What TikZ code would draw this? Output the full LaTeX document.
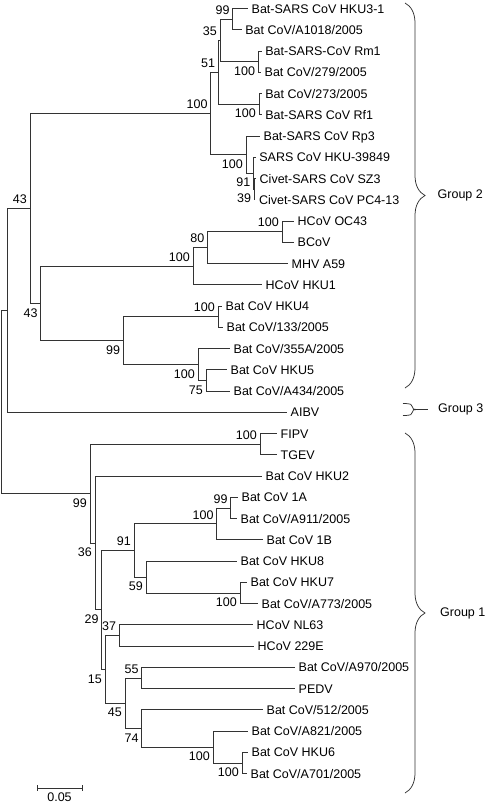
\documentclass[tikz,border=0pt]{standalone}
\usepackage{fontspec}
\setmainfont{Liberation Sans}
\usetikzlibrary{decorations.pathreplacing}

\begin{document}
\begin{tikzpicture}[x=1pt,y=-1pt,
    font=\fontsize{12.5}{14}\selectfont,
    branch/.style={line width=0.75pt,black!80},
    taxon/.style={anchor=west,inner xsep=3.5pt,inner ysep=0pt,text height=9pt,text depth=0pt},
    bsup/.style={anchor=south east,inner sep=0pt,text height=9pt,text depth=0pt,xshift=-3pt,yshift=4.5pt},
    bsdown/.style={anchor=north east,inner sep=0pt,text height=9pt,text depth=0pt,xshift=-3pt,yshift=-4.5pt},
    groupbrace/.style={line width=0.75pt,black!80,decorate,decoration={brace,amplitude=20pt}},
    grouplab/.style={anchor=west,inner sep=0pt}]
    \useasboundingbox (0,0) rectangle (487,804);

    % Group 2 taxa
    \node[taxon] (hku31) at (248,8.5) {Bat-SARS CoV HKU3-1};
    \node[taxon] (a1018) at (241.7,29.75) {Bat CoV/A1018/2005};
    \node[taxon] (rm1) at (261.7,51) {Bat-SARS-CoV Rm1};
    \node[taxon] (b279) at (261,72.25) {Bat CoV/279/2005};
    \node[taxon] (b273) at (261.7,93.5) {Bat CoV/273/2005};
    \node[taxon] (rf1) at (261.7,114.75) {Bat-SARS CoV Rf1};
    \node[taxon] (rp3) at (260,136) {Bat-SARS CoV Rp3};
    \node[taxon] (hku39849) at (255.7,157.25) {SARS CoV HKU-39849};
    \node[taxon] (sz3) at (256,178.5) {Civet-SARS CoV SZ3};
    \node[taxon] (pc4) at (255.3,199.75) {Civet-SARS CoV PC4-13};
    \node[taxon] (oc43) at (294,221) {HCoV OC43};
    \node[taxon] (bcov) at (294,242.25) {BCoV};
    \node[taxon] (mhv) at (288,263.5) {MHV A59};
    \node[taxon] (hku1) at (262,284.75) {HCoV HKU1};
    \node[taxon] (hku4) at (222,306) {Bat CoV HKU4};
    \node[taxon] (b133) at (223,327.25) {Bat CoV/133/2005};
    \node[taxon] (b355a) at (230,348.5) {Bat CoV/355A/2005};
    \node[taxon] (hku5) at (227,369.75) {Bat CoV HKU5};
    \node[taxon] (a434) at (230,391) {Bat CoV/A434/2005};
    % Group 3 taxon
    \node[taxon] (aibv) at (287,412.25) {AIBV};
    % Group 1 taxa
    \node[taxon] (fipv) at (277,433.5) {FIPV};
    \node[taxon] (tgev) at (277,454.75) {TGEV};
    \node[taxon] (hku2) at (262,476) {Bat CoV HKU2};
    \node[taxon] (b1a) at (238,497.25) {Bat CoV 1A};
    \node[taxon] (a911) at (237,518.5) {Bat CoV/A911/2005};
    \node[taxon] (b1b) at (263,539.75) {Bat CoV 1B};
    \node[taxon] (hku8) at (237,561) {Bat CoV HKU8};
    \node[taxon] (hku7) at (247,582.25) {Bat CoV HKU7};
    \node[taxon] (a773) at (258,603.5) {Bat CoV/A773/2005};
    \node[taxon] (nl63) at (253,624.75) {HCoV NL63};
    \node[taxon] (e229) at (254,646) {HCoV 229E};
    \node[taxon] (a970) at (295,667.25) {Bat CoV/A970/2005};
    \node[taxon] (pedv) at (295,688.5) {PEDV};
    \node[taxon] (b512) at (263,709.75) {Bat CoV/512/2005};
    \node[taxon] (a821) at (248,731) {Bat CoV/A821/2005};
    \node[taxon] (hku6) at (248,752.25) {Bat CoV HKU6};
    \node[taxon] (a701) at (247,773.5) {Bat CoV/A701/2005};

    % Internal nodes
    \coordinate (root) at (1.5,401.9);
    \coordinate (nX) at (7.3,310.3);
    \coordinate (g2) at (30,208.4);
    \coordinate (nS) at (210.7,113.4);
    \coordinate (nS1) at (218.3,72.25);
    \coordinate (n35) at (220,40.4);
    \coordinate (n99a) at (232.7,19.1);
    \coordinate (nRm) at (258.3,61.6);
    \coordinate (nRf) at (259,104.1);
    \coordinate (nS2) at (246,154.6);
    \coordinate (n91a) at (253.5,173.2);
    \coordinate (n39) at (254.3,189.1);
    \coordinate (g2b) at (40.7,303.3);
    \coordinate (nBeta) at (193,266.2);
    \coordinate (n80) at (207.5,247.6);
    \coordinate (nOB) at (282,231.6);
    \coordinate (nC) at (123.3,340.5);
    \coordinate (nH4) at (218,316.6);
    \coordinate (nH5) at (198,364.4);
    \coordinate (n75) at (206,380.4);
    \coordinate (g1) at (90,493.5);
    \coordinate (nFT) at (260,444.1);
    \coordinate (n36) at (95,542.9);
    \coordinate (n29) at (101.7,609.8);
    \coordinate (n91b) at (134,550.4);
    \coordinate (n100b) at (216.7,523.8);
    \coordinate (n99c) at (230.7,507.9);
    \coordinate (n59) at (146,576.9);
    \coordinate (nH7) at (240,592.9);
    \coordinate (n15) at (105,669.3);
    \coordinate (n37) at (119.3,635.4);
    \coordinate (n45) at (125,703.1);
    \coordinate (n55) at (141.7,677.9);
    \coordinate (n74) at (141.7,728.3);
    \coordinate (n100c) at (213,746.9);
    \coordinate (n100d) at (242,762.9);

    % Branches
    \draw[branch] (root) |- (nX) (root) |- (g1);
    \draw[branch] (nX) |- (g2) (nX) |- (aibv.west);
    \draw[branch] (g2) |- (nS) (g2) |- (g2b);
    \draw[branch] (nS) |- (nS1) (nS) |- (nS2);
    \draw[branch] (nS1) |- (n35) (nS1) |- (nRf);
    \draw[branch] (n35) |- (n99a) (n35) |- (nRm);
    \draw[branch] (n99a) |- (hku31.west) (n99a) |- (a1018.west);
    \draw[branch] (nRm) |- (rm1.west) (nRm) |- (b279.west);
    \draw[branch] (nRf) |- (b273.west) (nRf) |- (rf1.west);
    \draw[branch] (nS2) |- (rp3.west) (nS2) |- (n91a);
    \draw[branch] (n91a) |- (hku39849.west) (n91a) |- (n39);
    \draw[branch] (n39) |- (sz3.west) (n39) |- (pc4.west);
    \draw[branch] (g2b) |- (nBeta) (g2b) |- (nC);
    \draw[branch] (nBeta) |- (n80) (nBeta) |- (hku1.west);
    \draw[branch] (n80) |- (nOB) (n80) |- (mhv.west);
    \draw[branch] (nOB) |- (oc43.west) (nOB) |- (bcov.west);
    \draw[branch] (nC) |- (nH4) (nC) |- (nH5);
    \draw[branch] (nH4) |- (hku4.west) (nH4) |- (b133.west);
    \draw[branch] (nH5) |- (b355a.west) (nH5) |- (n75);
    \draw[branch] (n75) |- (hku5.west) (n75) |- (a434.west);
    \draw[branch] (g1) |- (nFT) (g1) |- (n36);
    \draw[branch] (nFT) |- (fipv.west) (nFT) |- (tgev.west);
    \draw[branch] (n36) |- (hku2.west) (n36) |- (n29);
    \draw[branch] (n29) |- (n91b) (n29) |- (n15);
    \draw[branch] (n91b) |- (n100b) (n91b) |- (n59);
    \draw[branch] (n100b) |- (n99c) (n100b) |- (b1b.west);
    \draw[branch] (n99c) |- (b1a.west) (n99c) |- (a911.west);
    \draw[branch] (n59) |- (hku8.west) (n59) |- (nH7);
    \draw[branch] (nH7) |- (hku7.west) (nH7) |- (a773.west);
    \draw[branch] (n15) |- (n37) (n15) |- (n45);
    \draw[branch] (n37) |- (nl63.west) (n37) |- (e229.west);
    \draw[branch] (n45) |- (n55) (n45) |- (n74);
    \draw[branch] (n55) |- (a970.west) (n55) |- (pedv.west);
    \draw[branch] (n74) |- (b512.west) (n74) |- (n100c);
    \draw[branch] (n100c) |- (a821.west) (n100c) |- (n100d);
    \draw[branch] (n100d) |- (hku6.west) (n100d) |- (a701.west);

    % Bootstrap values
    \node[bsup] at (n99a) {99};
    \node[bsup] at (n35) {35};
    \node[bsup] at (nS1) {51};
    \node[bsdown] at (nRm) {100};
    \node[bsdown] at (nRf) {100};
    \node[bsup] at (nS) {100};
    \node[bsdown] at (nS2) {100};
    \node[bsdown] at (n91a) {91};
    \node[bsdown] at (n39) {39};
    \node[bsup] at (g2) {43};
    \node[bsdown] at (g2b) {43};
    \node[bsup] at (nBeta) {100};
    \node[bsup] at (n80) {80};
    \node[bsup] at (nOB) {100};
    \node[bsdown] at (nC) {99};
    \node[bsup] at (nH4) {100};
    \node[bsdown] at (nH5) {100};
    \node[bsdown] at (n75) {75};
    \node[bsdown] at (g1) {99};
    \node[bsup] at (nFT) {100};
    \node[bsdown] at (n36) {36};
    \node[bsdown] at (n29) {29};
    \node[bsup] at (n91b) {91};
    \node[bsup] at (n100b) {100};
    \node[bsup] at (n99c) {99};
    \node[bsdown] at (n59) {59};
    \node[bsdown] at (nH7) {100};
    \node[bsdown] at (n15) {15};
    \node[bsup] at (n37) {37};
    \node[bsdown] at (n45) {45};
    \node[bsup] at (n55) {55};
    \node[bsdown] at (n74) {74};
    \node[bsdown] at (n100c) {100};
    \node[bsdown] at (n100d) {100};

    % Groups
    \draw[groupbrace] (405,3) -- (405,388);
    \node[grouplab] (grp2) at (437.5,195.5) {Group 2};
    \draw[branch] (403,403.5) .. controls (411,403.5) and (412.5,404.5) .. (412.5,407)
        .. controls (412.5,409) and (413.5,409.5) .. (416.5,409.5)
        .. controls (413.5,409.5) and (412.5,410) .. (412.5,412)
        .. controls (412.5,414.5) and (411,415.5) .. (403,415.5);
    \draw[branch] (416.5,409.5) -- (428,409.5);
    \node[grouplab] (grp3) at (438,409.5) {Group 3};
    \draw[groupbrace] (405,433) -- (405,793);
    \node[grouplab] (grp1) at (440,613) {Group 1};

    % Scale bar
    \coordinate (sbL) at (37,788);
    \coordinate (sbR) at (82,788);
    \draw[branch] (sbL) -- (sbR) (37,785) -- (37,791) (82,785) -- (82,791);
    \node (sblab) at (59.5,797) {0.05};
\end{tikzpicture}
\end{document}
